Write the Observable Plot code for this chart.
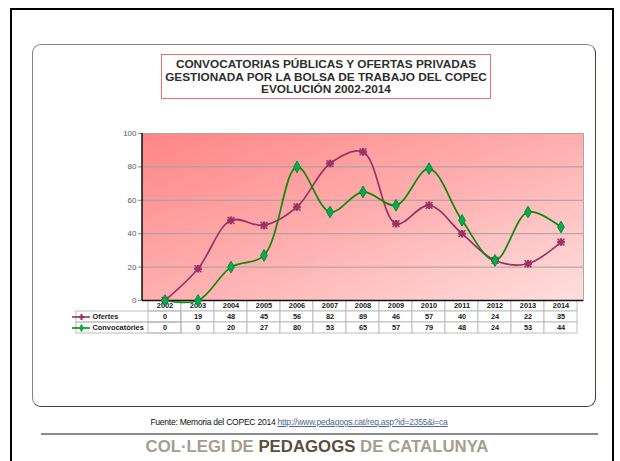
<!DOCTYPE html>
<html>
<head>
<meta charset="utf-8">
<script src="https://cdn.jsdelivr.net/npm/d3@7"></script>
<script src="https://cdn.jsdelivr.net/npm/@observablehq/plot@0.6"></script>
<style>
  html, body { margin: 0; padding: 0; background: #fff; }
  #page { position: relative; width: 620px; height: 461px; overflow: hidden; font-family: "Liberation Sans", Arial, sans-serif; }
  #outer { position: absolute; left: 10px; top: 8px; width: 604px; height: 470px; border: 2.5px solid #000; box-sizing: border-box; }
  #box { position: absolute; left: 32px; top: 44px; width: 564px; height: 363px; border: 1px solid #6f9165; border-right-color: #2f4f2a; border-bottom-color: #2f4f2a; border-radius: 9px; box-sizing: border-box; }
  #title { position: absolute; left: 161px; top: 54px; width: 330px; height: 45px; border: 1px solid #f07070; box-sizing: border-box; text-align: center; font-weight: bold; font-size: 11.8px; line-height: 12.6px; color: #2e2e2e; padding-top: 3px; white-space: nowrap; }
  #table { position: absolute; left: 40px; top: 300px; }
  #chart { position: absolute; left: 40px; top: 120px; }
  #source { position: absolute; left: 0; width: 598px; top: 417px; text-align: center; font-size: 8.55px; letter-spacing: -0.25px; color: #111; }
  #source a { color: #4a6a8e; text-decoration: underline; }
  #rule { position: absolute; left: 41px; top: 433px; width: 557px; height: 2px; background: #8a8a8a; }
  #brand { position: absolute; left: 0; width: 634px; top: 437px; text-align: center; font-weight: bold; font-size: 16.8px; color: #a79d8f; }
  #brand b { color: #5c4d3d; }
</style>
</head>
<body>
<div id="page">
  <div id="outer"></div>
  <div id="box"></div>
  <div id="title">CONVOCATORIAS PÚBLICAS Y OFERTAS PRIVADAS<br>GESTIONADA POR LA BOLSA DE TRABAJO DEL COPEC<br>EVOLUCIÓN 2002-2014</div>
  <div id="table"></div>
  <div id="chart"></div>
  <div id="source">Fuente: Memoria del COPEC 2014 <a>http://www.pedagogs.cat/req.asp?id=2355&amp;i=ca</a></div>
  <div id="rule"></div>
  <div id="brand">COL·LEGI DE <b>PEDAGOGS</b> DE CATALUNYA</div>
</div>
<script>
// ---- data ----
const years = ["2002","2003","2004","2005","2006","2007","2008","2009","2010","2011","2012","2013","2014"];
const ofertes = [0, 19, 48, 45, 56, 82, 89, 46, 57, 40, 24, 22, 35];
const convocatories = [0, 0, 20, 27, 80, 53, 65, 57, 79, 48, 24, 53, 44];
const seriesNames = ["Ofertes", "Convocatòries"];
const yTicks = [0, 20, 40, 60, 80, 100];

// ---- styles ----
const colOf = "#993366";
const colCv = "#0a8a0a";
const fillCv = "#00b050";
const W = 560, ML = 102, MR = 17;
const frameW = W - ML - MR;

const rows = years.map((yr, i) => ({year: yr, ofertes: ofertes[i], convocatories: convocatories[i]}));

const gradient = () => {
  const defs = d3.create("svg:defs");
  const g = defs.append("linearGradient").attr("id", "bgGrad")
    .attr("x1", "0").attr("y1", "0").attr("x2", "1").attr("y2", "1");
  g.append("stop").attr("offset", "0%").attr("stop-color", "#ff8585");
  g.append("stop").attr("offset", "55%").attr("stop-color", "#ffb3b3");
  g.append("stop").attr("offset", "100%").attr("stop-color", "#ffdede");
  return defs.node();
};

// left axis line drawn at the frame's left edge using the plot's y scale
const leftAxisLine = (index, scales, values, dims) => {
  const yS = scales.y;
  return d3.create("svg:line")
    .attr("x1", dims.marginLeft).attr("x2", dims.marginLeft)
    .attr("y1", yS(0)).attr("y2", yS(100))
    .attr("stroke", "#111").attr("stroke-width", 1.5).node();
};

const chart = Plot.plot({
  width: W, height: 180,
  marginTop: 13, marginBottom: 0, marginLeft: ML, marginRight: MR,
  style: {background: "transparent", fontFamily: "Liberation Sans, Arial, sans-serif", fontSize: "8px", color: "#555", overflow: "visible"},
  x: {type: "band", domain: years, padding: 0, axis: null},
  y: {domain: [0, 100], axis: null},
  marks: [
    gradient,
    Plot.frame({fill: "url(#bgGrad)", stroke: "#a8a8a8"}),
    Plot.ruleY(yTicks.slice(1, -1), {stroke: "#a0a0a0", strokeWidth: 1}),
    Plot.axisY({ticks: yTicks, tickSize: 4, tickPadding: 2, fontSize: 8, stroke: "#888"}),
    Plot.ruleY([0], {stroke: "#111", strokeWidth: 1.5}),
    leftAxisLine,
    Plot.line(rows, {x: "year", y: "ofertes", stroke: colOf, strokeWidth: 1.7, curve: "catmull-rom"}),
    Plot.line(rows, {x: "year", y: "convocatories", stroke: colCv, strokeWidth: 1.7, curve: "catmull-rom"}),
    Plot.dot(rows, {x: "year", y: "ofertes", symbol: "cross", r: 3.2, fill: colOf, stroke: null}),
    Plot.dot(rows, {x: "year", y: "ofertes", symbol: "times", r: 3.2, stroke: colOf, strokeWidth: 1.4}),
    Plot.dot(rows, {x: "year", y: "convocatories", symbol: "diamond", r: 3.6, fill: fillCv, stroke: "#007a2a", strokeWidth: 0.8})
  ]
});
document.getElementById("chart").appendChild(chart);

// ---- data table ----
const rowKeys = ["year", ...seriesNames];
const cells = [];
years.forEach((yr, i) => {
  cells.push({year: yr, row: "year", text: yr});
  cells.push({year: yr, row: seriesNames[0], text: String(ofertes[i])});
  cells.push({year: yr, row: seriesNames[1], text: String(convocatories[i])});
});

const table = Plot.plot({
  width: W, height: 33,
  marginTop: 0, marginBottom: 0, marginLeft: ML, marginRight: MR,
  style: {background: "transparent", fontFamily: "Liberation Sans, Arial, sans-serif", color: "#222", overflow: "visible"},
  x: {type: "band", domain: years, padding: 0, axis: null},
  y: {type: "band", domain: rowKeys, padding: 0, axis: null},
  marks: [
    Plot.cell(cells, {x: "year", y: "row", fill: "#ffffff", stroke: "#bdbdbd", strokeWidth: 1}),
    Plot.cell(seriesNames, {x: () => years[0], y: d => d, insetLeft: -72, fill: "none", stroke: "#bdbdbd", strokeWidth: 1}),
    Plot.text(cells, {x: "year", y: "row", text: "text", fontSize: 7.4, fontWeight: "bold", fill: "#1a1a1a"}),
    Plot.ruleY([seriesNames[0]], {y: d => d, insetLeft: -70, insetRight: frameW + 52, stroke: colOf, strokeWidth: 1.6}),
    Plot.ruleY([seriesNames[1]], {y: d => d, insetLeft: -70, insetRight: frameW + 52, stroke: colCv, strokeWidth: 1.6}),
    Plot.dot([seriesNames[0]], {y: d => d, frameAnchor: "left", dx: -61, symbol: "cross", r: 2.6, fill: colOf, stroke: null}),
    Plot.dot([seriesNames[1]], {y: d => d, frameAnchor: "left", dx: -61, symbol: "diamond", r: 2.6, fill: fillCv, stroke: null}),
    Plot.text(seriesNames, {y: d => d, text: d => d, frameAnchor: "left", dx: -50, textAnchor: "start", fontSize: 7.4, fontWeight: "bold", fill: "#1a1a1a"})
  ]
});
document.getElementById("table").appendChild(table);
</script>
</body>
</html>
